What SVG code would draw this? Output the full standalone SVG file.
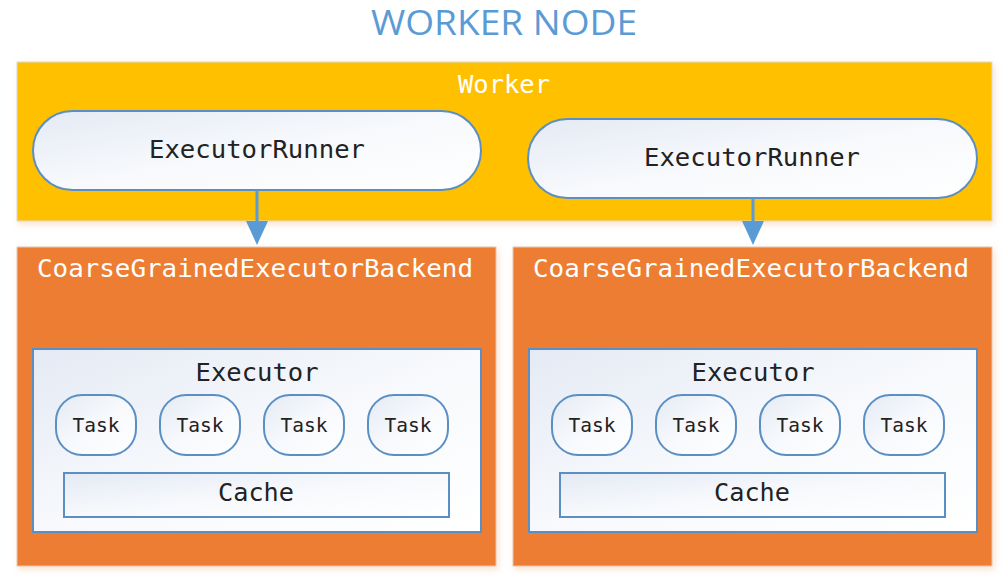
<svg xmlns="http://www.w3.org/2000/svg" width="1006" height="581" viewBox="0 0 1006 581">
<style>
.mono{font-family:"DejaVu Sans Mono","Liberation Mono",monospace;}
.white{fill:#ffffff;}
.dark{fill:#222222;}
.worker{fill:#ffc000;stroke:#d9d9d9;stroke-width:1;}
.backend{fill:#ed7d31;stroke:#e6c7b0;stroke-width:1;}
.blue{fill:url(#g);stroke:#5b8fc4;stroke-width:2;}
.conn{stroke:#5b9bd5;stroke-width:3;fill:none;}
</style>
<defs>
<linearGradient id="g" x1="0" y1="0" x2="1" y2="1">
<stop offset="0" stop-color="#e4eaf4"/>
<stop offset="0.5" stop-color="#f7f9fc"/>
<stop offset="1" stop-color="#ffffff"/>
</linearGradient>
<filter id="sh" x="-5%" y="-5%" width="110%" height="115%">
<feDropShadow dx="2" dy="3" stdDeviation="3" flood-color="#e8a060" flood-opacity="0.3"/>
</filter>
</defs>
<rect width="1006" height="581" fill="#ffffff"/>
<text x="504" y="35" text-anchor="middle" font-family="'Open Sans','Noto Sans',sans-serif" font-size="35" fill="#5b9bd5" textLength="266" lengthAdjust="spacingAndGlyphs">WORKER NODE</text>

<g id="worker">
<rect class="worker" x="17" y="62" width="975" height="159" filter="url(#sh)"/>
<text class="mono white" x="504" y="93" text-anchor="middle" font-size="24" textLength="92" lengthAdjust="spacingAndGlyphs">Worker</text>
</g>
<g id="runner1">
<rect class="blue" x="33" y="111" width="448" height="79" rx="39.5"/>
<text class="mono dark" x="257" y="158" text-anchor="middle" font-size="24" textLength="216" lengthAdjust="spacingAndGlyphs">ExecutorRunner</text>
</g>
<g id="runner2">
<rect class="blue" x="528" y="119" width="449" height="79" rx="39.5"/>
<text class="mono dark" x="752" y="166" text-anchor="middle" font-size="24" textLength="216" lengthAdjust="spacingAndGlyphs">ExecutorRunner</text>
</g>

<g id="backend1">
<rect class="backend" x="17" y="247" width="479" height="319" filter="url(#sh)"/>
<text class="mono white" x="37" y="277" font-size="24" textLength="436" lengthAdjust="spacingAndGlyphs">CoarseGrainedExecutorBackend</text>
</g>
<g id="backend2">
<rect class="backend" x="513" y="247" width="479" height="319" filter="url(#sh)"/>
<text class="mono white" x="533" y="277" font-size="24" textLength="436" lengthAdjust="spacingAndGlyphs">CoarseGrainedExecutorBackend</text>
</g>

<g id="executor1">
<rect class="blue" x="33" y="349" width="448" height="183"/>
<text class="mono dark" x="257" y="381" text-anchor="middle" font-size="24" textLength="123" lengthAdjust="spacingAndGlyphs">Executor</text>
</g>
<g id="task1a"><rect class="blue" x="56" y="395" width="80" height="60" rx="26"/><text class="mono dark" x="96" y="432" text-anchor="middle" font-size="19" textLength="47" lengthAdjust="spacingAndGlyphs">Task</text></g>
<g id="task1b"><rect class="blue" x="160" y="395" width="80" height="60" rx="26"/><text class="mono dark" x="200" y="432" text-anchor="middle" font-size="19" textLength="47" lengthAdjust="spacingAndGlyphs">Task</text></g>
<g id="task1c"><rect class="blue" x="264" y="395" width="80" height="60" rx="26"/><text class="mono dark" x="304" y="432" text-anchor="middle" font-size="19" textLength="47" lengthAdjust="spacingAndGlyphs">Task</text></g>
<g id="task1d"><rect class="blue" x="368" y="395" width="80" height="60" rx="26"/><text class="mono dark" x="408" y="432" text-anchor="middle" font-size="19" textLength="47" lengthAdjust="spacingAndGlyphs">Task</text></g>
<g id="cache1"><rect class="blue" x="64" y="473" width="385" height="44"/><text class="mono dark" x="256" y="501" text-anchor="middle" font-size="24" textLength="76" lengthAdjust="spacingAndGlyphs">Cache</text></g>

<g id="executor2">
<rect class="blue" x="529" y="349" width="448" height="183"/>
<text class="mono dark" x="753" y="381" text-anchor="middle" font-size="24" textLength="123" lengthAdjust="spacingAndGlyphs">Executor</text>
</g>
<g id="task2a"><rect class="blue" x="552" y="395" width="80" height="60" rx="26"/><text class="mono dark" x="592" y="432" text-anchor="middle" font-size="19" textLength="47" lengthAdjust="spacingAndGlyphs">Task</text></g>
<g id="task2b"><rect class="blue" x="656" y="395" width="80" height="60" rx="26"/><text class="mono dark" x="696" y="432" text-anchor="middle" font-size="19" textLength="47" lengthAdjust="spacingAndGlyphs">Task</text></g>
<g id="task2c"><rect class="blue" x="760" y="395" width="80" height="60" rx="26"/><text class="mono dark" x="800" y="432" text-anchor="middle" font-size="19" textLength="47" lengthAdjust="spacingAndGlyphs">Task</text></g>
<g id="task2d"><rect class="blue" x="864" y="395" width="80" height="60" rx="26"/><text class="mono dark" x="904" y="432" text-anchor="middle" font-size="19" textLength="47" lengthAdjust="spacingAndGlyphs">Task</text></g>
<g id="cache2"><rect class="blue" x="560" y="473" width="385" height="44"/><text class="mono dark" x="752" y="501" text-anchor="middle" font-size="24" textLength="76" lengthAdjust="spacingAndGlyphs">Cache</text></g>

<g id="connectors">
<line class="conn" x1="257" y1="190" x2="257" y2="230"/>
<path d="M246,221 L268,221 L257,245 z" fill="#5b9bd5"/>
<line class="conn" x1="753" y1="198" x2="753" y2="230"/>
<path d="M742,221 L764,221 L753,245 z" fill="#5b9bd5"/>
</g>
</svg>
